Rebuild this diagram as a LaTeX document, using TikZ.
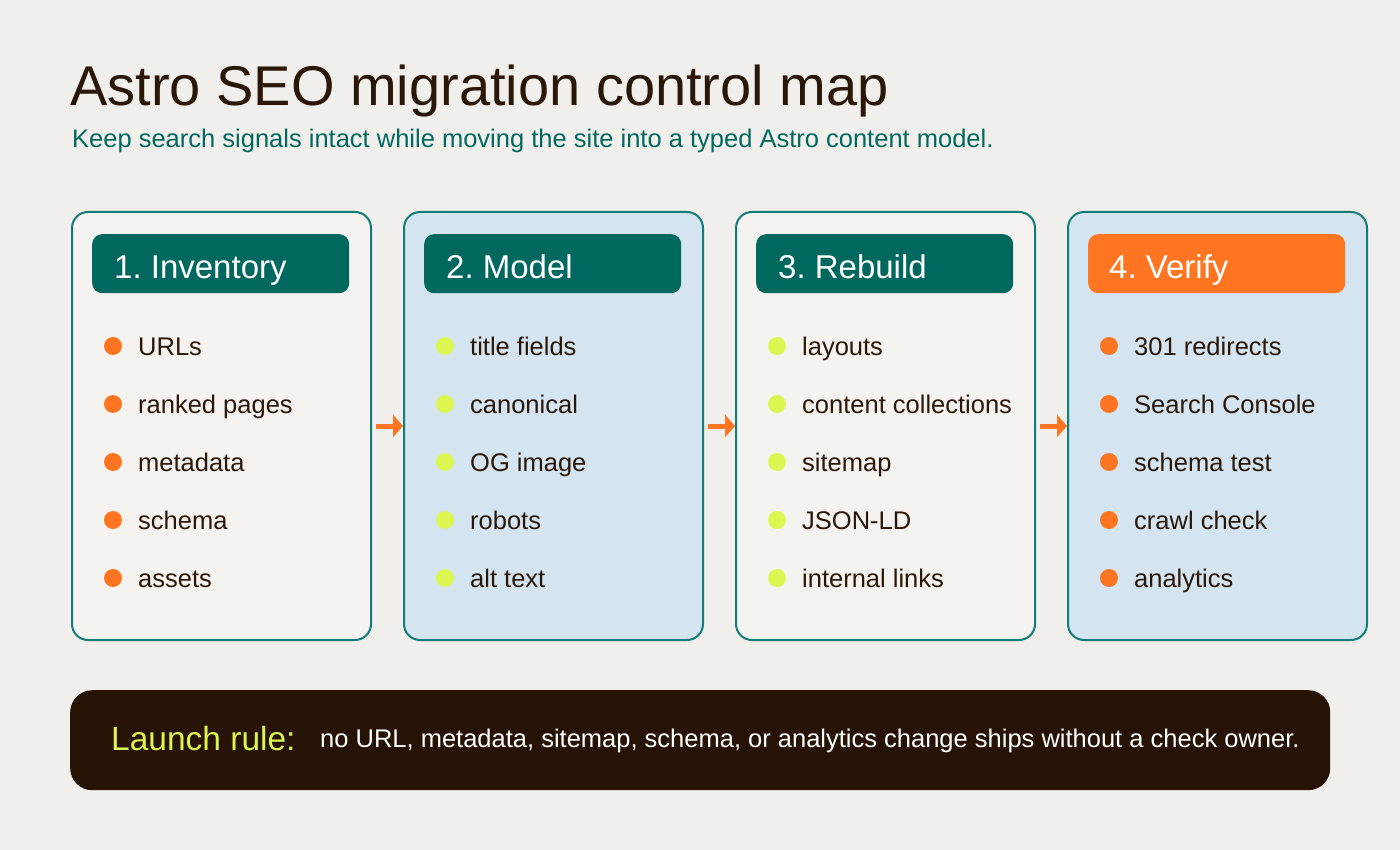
\documentclass[tikz,border=0pt]{standalone}
\usepackage{fontspec}
\setmainfont{Liberation Sans}
\usetikzlibrary{arrows.meta}
\frenchspacing
\definecolor{bgc}{HTML}{F1EFEB}
\definecolor{panelA}{HTML}{F5F3EF}
\definecolor{panelB}{HTML}{D4E4F0}
\definecolor{bordc}{HTML}{127C78}
\definecolor{headc}{HTML}{00685F}
\definecolor{orangec}{HTML}{FF7522}
\definecolor{limec}{HTML}{DCF550}
\definecolor{darkc}{HTML}{261306}
\definecolor{titlec}{HTML}{2A1708}
\definecolor{subc}{HTML}{00695F}
\tikzset{
  panel/.style={draw=bordc, line width=2pt, rounded corners=16pt, minimum width=299pt, minimum height=428pt, inner sep=0pt, anchor=north west},
  headbox/.style={rounded corners=10pt, minimum width=257pt, minimum height=59pt, inner sep=0pt, anchor=north west},
  headtxt/.style={text=white, font=\fontsize{33}{39}\selectfont\frenchspacing, inner sep=0pt, anchor=base west},
  dot/.style={circle, minimum size=18pt, inner sep=0pt},
  item/.style={text=titlec, font=\fontsize{25.5}{30}\selectfont, inner sep=0pt, anchor=base west},
  flow/.style={draw=orangec, line width=5pt, -{Triangle[length=10pt,width=22pt]}}
}
\begin{document}
\begin{tikzpicture}[x=1pt,y=-1pt]
\fill[bgc] (0,0) rectangle (1400,850);
\useasboundingbox (0,0) rectangle (1400,850);

\node[text=titlec, font=\fontsize{56}{66}\selectfont, inner sep=0pt, anchor=base west] (title) at (70,106) {Astro SEO migration control map};
\node[text=subc, font=\fontsize{25.5}{30}\selectfont, inner sep=0pt, anchor=base west] (subtitle) at (72,148) {Keep search signals intact while moving the site into a typed Astro content model.};

% panels
\node[panel, fill=panelA] (p1) at (71,211) {};
\node[panel, fill=panelB] (p2) at (403,211) {};
\node[panel, fill=panelA] (p3) at (735,211) {};
\node[panel, fill=panelB] (p4) at (1067,211) {};

% headers
\node[headbox, fill=headc] (h1) at (92,234) {};
\node[headbox, fill=headc] (h2) at (424,234) {};
\node[headbox, fill=headc] (h3) at (756,234) {};
\node[headbox, fill=orangec] (h4) at (1088,234) {};
\node[headtxt] (t1) at (114,279) {1. Inventory};
\node[headtxt] (t2) at (446,279) {2. Model};
\node[headtxt] (t3) at (778,279) {3. Rebuild};
\node[headtxt] (t4) at (1109,279) {4. Verify};

% items
\foreach \lab [count=\i] in {URLs, ranked pages, metadata, schema, assets} {
  \node[dot, fill=orangec] (a\i) at (113,{346+58*(\i-1)}) {};
  \node[item] (at\i) at (138,{355+58*(\i-1)}) {\lab};
}
\foreach \lab [count=\i] in {title fields, canonical, OG image, robots, alt text} {
  \node[dot, fill=limec] (b\i) at (445,{346+58*(\i-1)}) {};
  \node[item] (bt\i) at (470,{355+58*(\i-1)}) {\lab};
}
\foreach \lab [count=\i] in {layouts, content collections, sitemap, JSON-LD, internal links} {
  \node[dot, fill=limec] (c\i) at (777,{346+58*(\i-1)}) {};
  \node[item] (ct\i) at (802,{355+58*(\i-1)}) {\lab};
}
\foreach \lab [count=\i] in {301 redirects, Search Console, schema test, crawl check, analytics} {
  \node[dot, fill=orangec] (d\i) at (1109,{346+58*(\i-1)}) {};
  \node[item] (dt\i) at (1134,{355+58*(\i-1)}) {\lab};
}

% arrows
\draw[flow] ([xshift=4pt]p1.east) -- (p2.west);
\draw[flow] ([xshift=4pt]p2.east) -- (p3.west);
\draw[flow] ([xshift=4pt]p3.east) -- (p4.west);

% launch bar
\node[fill=darkc, rounded corners=22pt, minimum width=1260pt, minimum height=100pt, inner sep=0pt, anchor=north west] (bar) at (70,690) {};
\node[text=limec, font=\fontsize{33.5}{40}\selectfont, inner sep=0pt, anchor=base west] (lr) at (111,750) {Launch rule:};
\node[text=white, font=\fontsize{25.5}{30}\selectfont, inner sep=0pt, anchor=base west] (lrt) at (320,747) {no URL, metadata, sitemap, schema, or analytics change ships without a check owner.};
\end{tikzpicture}
\end{document}
